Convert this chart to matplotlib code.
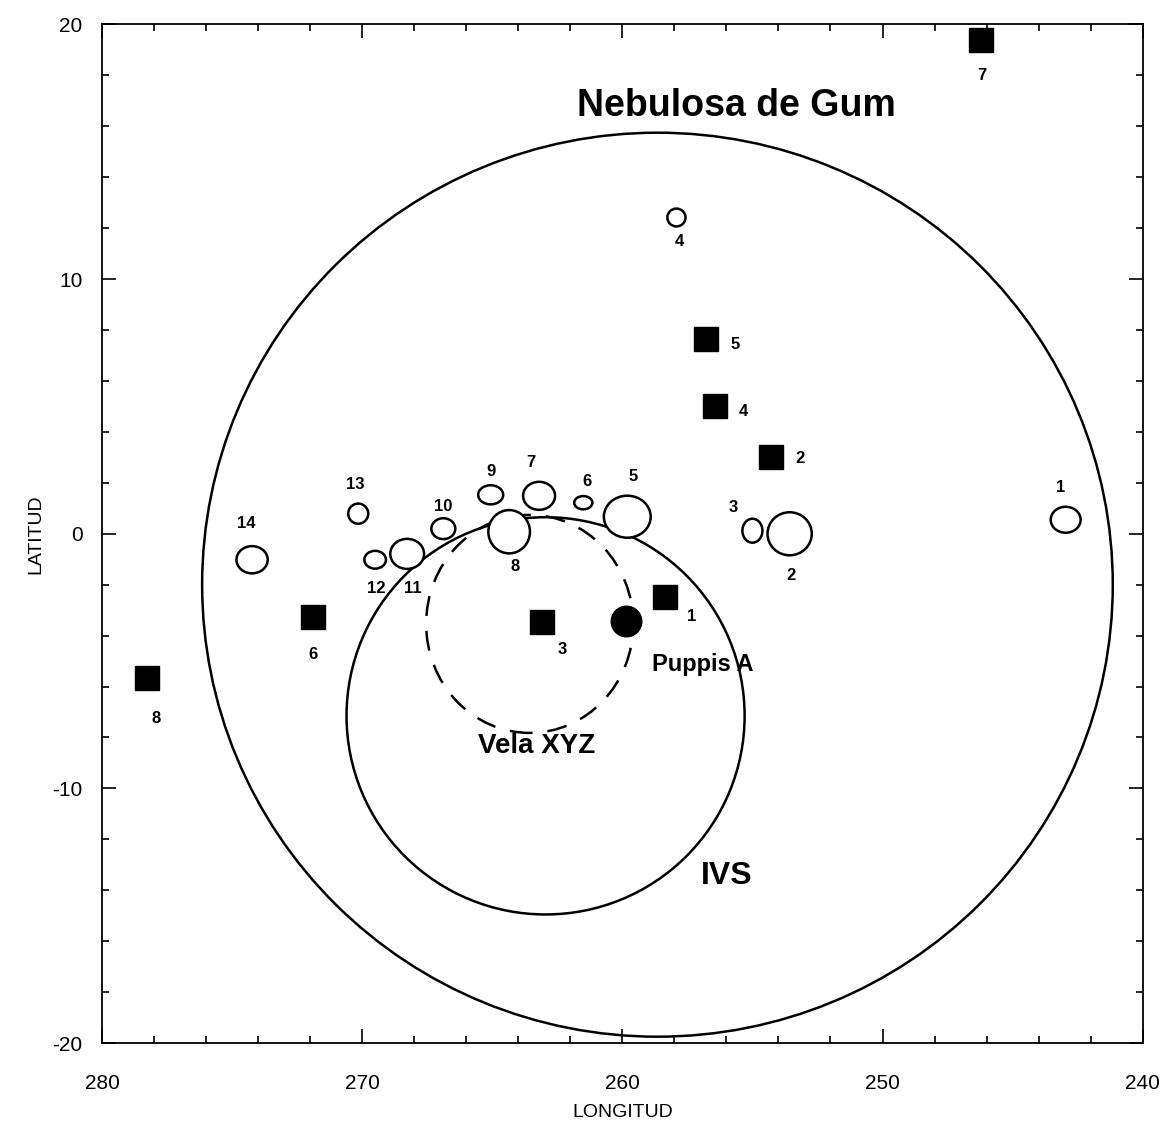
import matplotlib
matplotlib.use("Agg")
import matplotlib.pyplot as plt
from matplotlib.patches import Ellipse

plt.rcParams['font.family'] = ['Liberation Sans', 'DejaVu Sans']
plt.rcParams['axes.unicode_minus'] = False

# ---- data ----
# filled squares (labelled 1..8): galactic longitude, latitude
sq_labels = ["1", "2", "3", "4", "5", "6", "7", "8"]
sq_lon = [258.35, 254.3, 263.1, 256.45, 256.8, 271.9, 246.2, 278.25]
sq_lat = [-2.48, 3.03, -3.46, 5.03, 7.66, -3.26, 19.4, -5.66]

# open ellipses (labelled 1..14): position and angular size (deg)
oc_labels = ["1", "2", "3", "4", "5", "6", "7", "8", "9", "10", "11", "12", "13", "14"]
oc_lon = [242.96, 253.57, 255.0, 257.92, 259.81, 261.5, 263.2, 264.35, 265.06, 266.88, 268.27, 269.5, 270.15, 274.23]
oc_lat = [0.55, 0.0, 0.12, 12.42, 0.67, 1.22, 1.49, 0.08, 1.53, 0.2, -0.79, -1.02, 0.79, -1.02]
oc_w = [1.15, 1.7, 0.77, 0.7, 1.8, 0.7, 1.23, 1.6, 0.96, 0.92, 1.3, 0.83, 0.77, 1.2]
oc_h = [1.02, 1.69, 0.94, 0.7, 1.65, 0.52, 1.1, 1.7, 0.75, 0.82, 1.18, 0.7, 0.79, 1.07]

# Puppis A (filled circle)
pup_lon, pup_lat = 259.85, -3.42

# large structures: centre lon, lat, width, height (deg)
gum = (258.65, -2.0, 35.0, 35.5)
ivs = (262.95, -7.15, 15.3, 15.6)
vela = (263.56, -3.54, 7.96, 8.56)

# label offsets in points (style)
sq_off = [(19, -14), (21, -1), (15, -20), (21, -4), (21, -4), (0, -27), (0, -26), (6, -29)]
oc_off = [(-4, 23), (1, -30), (-14, 17), (2, -17), (4, 29), (3, 15), (-6, 24), (4, -25),
          (0, 17), (0, 16), (4, -25), (1, -21), (-2, 21), (-4, 26)]

fig = plt.figure(figsize=(11.72, 11.28), dpi=100)
ax = fig.add_axes([0.087, 0.0753, 0.888, 0.903])
ax.set_xlim(280, 240)
ax.set_ylim(-20, 20)

# large circles
for (cx, cy, w, h) in [gum, ivs]:
    ax.add_patch(Ellipse((cx, cy), w, h, fill=False, edgecolor='black', lw=1.8, zorder=2))
ax.add_patch(Ellipse((vela[0], vela[1]), vela[2], vela[3], fill=False, edgecolor='black',
                     lw=1.8, ls=(0, (8, 6)), zorder=2))

# open ellipses
for x, y, w, h, lab, off in zip(oc_lon, oc_lat, oc_w, oc_h, oc_labels, oc_off):
    ax.add_patch(Ellipse((x, y), w, h, facecolor='white', edgecolor='black', lw=1.8, zorder=3))
    ax.annotate(lab, (x, y), xytext=off, textcoords='offset points', ha='center', va='center',
                fontsize=12, fontweight='bold', zorder=5)

# squares
ax.plot(sq_lon, sq_lat, ls='none', marker='s', markersize=17, color='black', zorder=4)
for x, y, lab, off in zip(sq_lon, sq_lat, sq_labels, sq_off):
    ax.annotate(lab, (x, y), xytext=off, textcoords='offset points', ha='center', va='center',
                fontsize=12, fontweight='bold', zorder=5)

# Puppis A
ax.plot([pup_lon], [pup_lat], ls='none', marker='o', markersize=22, color='black', zorder=4)

# names
ax.text(255.6, 16.8, "Nebulosa de Gum", ha='center', va='center', fontsize=27, fontweight='bold')
ax.text(256.0, -13.45, "IVS", ha='center', va='center', fontsize=23, fontweight='bold')
ax.text(263.3, -8.35, "Vela XYZ", ha='center', va='center', fontsize=20, fontweight='bold')
ax.text(256.9, -5.15, "Puppis A", ha='center', va='center', fontsize=17, fontweight='bold')

# axes styling
ax.set_xticks([280, 270, 260, 250, 240])
ax.set_yticks([-20, -10, 0, 10, 20])
ax.set_xticks(range(240, 281, 2), minor=True)
ax.set_yticks(range(-20, 21, 2), minor=True)
ax.tick_params(which='both', direction='in', top=True, right=True, width=1.2, labelsize=15)
ax.tick_params(which='major', length=10)
ax.tick_params(which='minor', length=5)
ax.tick_params(axis='x', pad=22)
ax.tick_params(axis='y', pad=14)
for s in ax.spines.values():
    s.set_linewidth(1.3)
ax.set_xlabel("LONGITUD", fontsize=14, labelpad=8)
ax.set_ylabel("LATITUD", fontsize=14, labelpad=6)

fig.savefig("out.png", dpi=100)
